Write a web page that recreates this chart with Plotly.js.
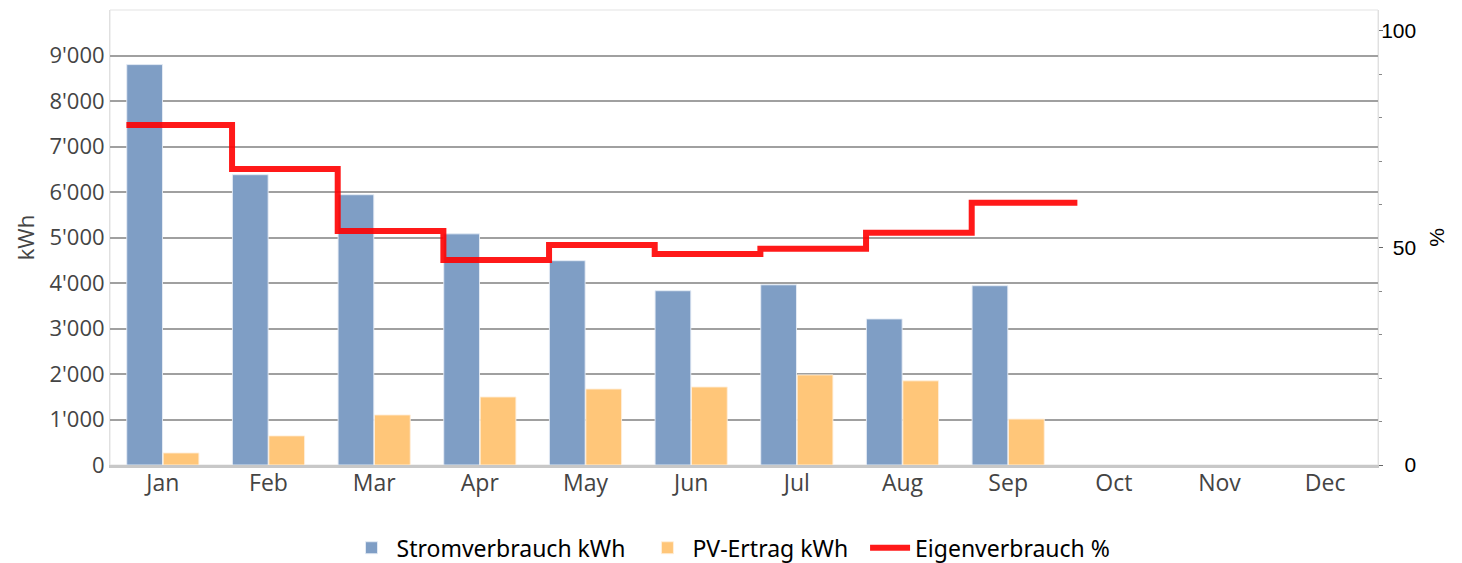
<!DOCTYPE html>
<html><head><meta charset="utf-8">
<script src="https://cdn.plot.ly/plotly-3.0.1.min.js"></script>
<style>html,body{margin:0;padding:0;background:#fff}#chart{width:1462px;height:563px}</style>
</head><body><div id="chart"></div>
<script>
const months = ['Jan','Feb','Mar','Apr','May','Jun','Jul','Aug','Sep','Oct','Nov','Dec'];
const stromverbrauch = [8800, 6380, 5940, 5080, 4490, 3830, 3960, 3210, 3940, null, null, null];
const pvErtrag = [265, 640, 1100, 1495, 1670, 1715, 1980, 1850, 1010, null, null, null];
const eigenverbrauch = [78.3, 68.2, 53.9, 47.2, 50.7, 48.6, 49.8, 53.5, 60.4];
const leftTicks = [0,1000,2000,3000,4000,5000,6000,7000,8000,9000];
const rightTicks = [0, 50, 100];
const rightTickText = ['\u2007\u20070', '\u200750', '100'];

const idx = months.map((m,i)=>i);
// step line: each month's value spans from its group's left edge to the next
const offs = 0.345;
const lineX = eigenverbrauch.map((v,i)=>i-offs).concat([eigenverbrauch.length-offs]);
const lineY = eigenverbrauch.concat([eigenverbrauch[eigenverbrauch.length-1]]);

const pad = '\u00a0\u00a0';
const traces = [
  {type:'bar', name:'Stromverbrauch kWh'+pad, x:idx, y:stromverbrauch,
   marker:{color:'#7f9ec5', line:{color:'rgba(230,236,245,0.9)', width:1}}},
  {type:'bar', name:'PV-Ertrag kWh'+pad, x:idx, y:pvErtrag,
   marker:{color:'#ffc679', line:{color:'rgba(255,240,220,0.9)', width:1}}},
  {type:'scatter', mode:'lines', name:'Eigenverbrauch %', x:lineX, y:lineY, yaxis:'y2',
   line:{shape:'hv', color:'rgba(255,0,0,0.9)', width:6}}
];

const tf = {family:'Open Sans, sans-serif', size:22, color:'#444'};
const layout = {
  width:1462, height:563,
  margin:{l:110, r:84, t:10, b:98, autoexpand:false},
  paper_bgcolor:'#fff', plot_bgcolor:'#fff',
  separators:".'",
  barmode:'group', bargap:0.31, bargroupgap:0.02,
  showlegend:true,
  legend:{orientation:'h', x:0.5, xanchor:'center', xref:'container', yref:'container', y:0.027, yanchor:'middle',
    font:{family:'Noto Sans, sans-serif', size:23, color:'#000'}, itemwidth:40, traceorder:'normal'},
  xaxis:{range:[-0.5,11.5], tickvals:idx, ticktext:months, showgrid:false, zeroline:false,
    ticks:'', showline:true, linecolor:'#c8c8c8', linewidth:3, mirror:false, ticklabelstandoff:-5,
    tickfont:{family:'Open Sans, sans-serif', size:23, color:'#444'}},
  yaxis:{range:[0,10000], tickvals:leftTicks, tickformat:',d', showgrid:true, gridcolor:'#a0a0a0', gridwidth:2,
    zeroline:false, showline:true, linecolor:'#e0e0e0', linewidth:1, ticks:'',
    tickfont:tf,
    title:{text:'kWh', font:{family:'Open Sans, sans-serif', size:22, color:'#444'}, standoff:8}},
  yaxis2:{range:[0,104.8], overlaying:'y', side:'right', tickvals:rightTicks, ticktext:rightTickText,
    showgrid:false, zeroline:false, showline:true, linecolor:'#e0e0e0', linewidth:1,
    ticks:'outside', ticklen:4, tickcolor:'#666', ticklabelstandoff:-6,
    minor:{dtick:10, ticks:'outside', ticklen:3, tickcolor:'#888', showgrid:false},
    tickfont:{family:'Liberation Sans, Arial, sans-serif', size:21, color:'#000'},
    title:{text:'%', font:{family:'Liberation Sans, Arial, sans-serif', size:21, color:'#000'}, standoff:14}},
  shapes:[{type:'rect', xref:'paper', yref:'paper', x0:0, x1:1, y0:0, y1:1, line:{color:'#e3e3e3', width:1}, layer:'below'}]
};

Plotly.newPlot('chart', traces, layout, {displayModeBar:false, staticPlot:true});
</script></body></html>
